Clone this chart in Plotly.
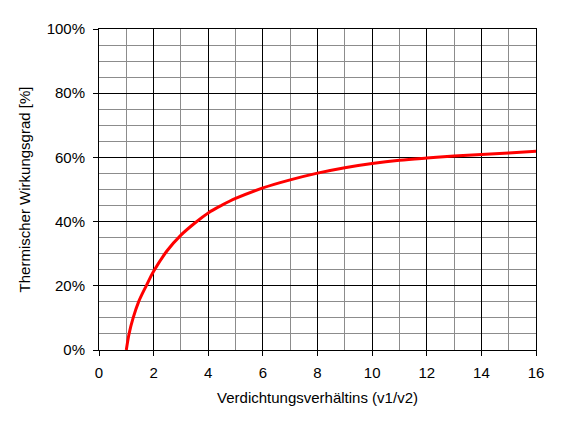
import plotly.graph_objects as go

# Verdichtungsverhaeltnis (v1/v2) und thermischer Wirkungsgrad in %
verdichtung = [1.0, 1.1, 1.25, 1.45, 1.73, 2.0, 2.5, 3.0, 3.5, 4.0, 4.5, 5.0, 6.0,
               7.0, 8.0, 9.0, 10.0, 11.0, 12.0, 13.0, 14.0, 15.0, 16.0]
wirkungsgrad = [0.0, 5.0, 10.0, 15.0, 20.0, 24.5, 31.0, 35.8, 39.5, 42.7, 45.1, 47.2, 50.5,
                53.0, 55.1, 56.8, 58.1, 59.1, 59.8, 60.4, 60.9, 61.4, 61.9]

x_ticks = [0, 2, 4, 6, 8, 10, 12, 14, 16]
y_ticks = [0, 20, 40, 60, 80, 100]
y_labels = ["0%", "20%", "40%", "60%", "80%", "100%"]

schrift = dict(family="Liberation Sans, Arial, sans-serif", size=15, color="black")

fig = go.Figure(go.Scatter(
    x=verdichtung,
    y=wirkungsgrad,
    mode="lines",
    line=dict(color="#ff0000", width=3, shape="spline", smoothing=1.0),
    hoverinfo="x+y",
))

# die Seite hat 8px Rand, daher Breite/Hoehe und Raender etwas kleiner
fig.update_layout(
    width=554,
    height=420,
    margin=dict(l=91, r=26, t=21, b=78),
    paper_bgcolor="white",
    plot_bgcolor="white",
    font=schrift,
    showlegend=False,
)

fig.update_xaxes(
    range=[0, 16],
    tickvals=x_ticks,
    ticks="outside",
    ticklen=5,
    tickcolor="black",
    ticklabelstandoff=4,
    showline=True,
    mirror=True,
    linecolor="black",
    linewidth=1,
    showgrid=True,
    gridcolor="black",
    gridwidth=1,
    zeroline=False,
    minor=dict(dtick=1, showgrid=True, gridcolor="#8c8c8c", gridwidth=1, ticks=""),
    title=dict(text="Verdichtungsverhältins (v1/v2)", standoff=12, font=schrift),
    automargin=False,
)

fig.update_yaxes(
    range=[0, 100],
    tickvals=y_ticks,
    ticktext=y_labels,
    ticks="outside",
    ticklen=5,
    tickcolor="black",
    ticklabelstandoff=5,
    showline=True,
    mirror=True,
    linecolor="black",
    linewidth=1,
    showgrid=True,
    gridcolor="black",
    gridwidth=1,
    zeroline=False,
    minor=dict(dtick=5, showgrid=True, gridcolor="#8c8c8c", gridwidth=1, ticks=""),
    title=dict(text="Thermischer Wirkungsgrad [%]", standoff=12, font=schrift),
    automargin=False,
)

fig.write_html("out.html")
